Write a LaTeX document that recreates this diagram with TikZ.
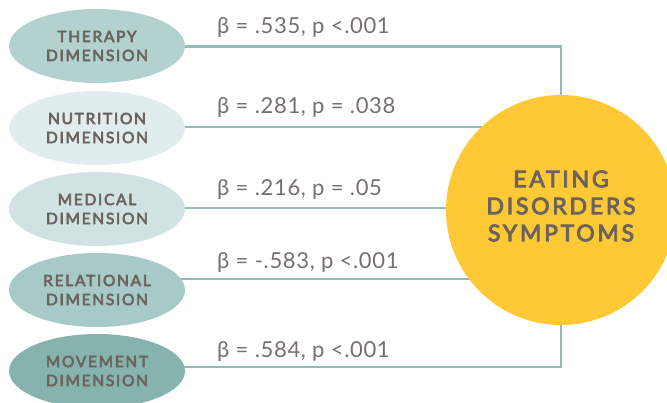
\documentclass[tikz,border=0pt]{standalone}
\usepackage{fontspec}
\setmainfont{Lato}
\newfontfamily\labfont[LetterSpace=3]{Lato}
\newfontfamily\dimfont[LetterSpace=11, FakeBold=4]{Lato}
\newfontfamily\circfont[LetterSpace=12, FakeBold=4]{Lato}
\usetikzlibrary{backgrounds,shapes.geometric}
\definecolor{txt}{HTML}{6B635E}
\definecolor{lbl}{HTML}{75706C}
\definecolor{ln}{HTML}{8FBDB8}
\definecolor{cA}{HTML}{B3D1CE}
\definecolor{cB}{HTML}{E1EDED}
\definecolor{cC}{HTML}{D0E3E2}
\definecolor{cD}{HTML}{A7C9C7}
\definecolor{cE}{HTML}{87B3AE}
\definecolor{yel}{HTML}{FFC935}
\begin{document}
\begin{tikzpicture}[x=1pt,y=-1pt,
  dimnode/.style={ellipse, minimum width=176pt, minimum height=74pt, inner sep=0pt,
    align=center, text=txt, font=\dimfont\fontsize{15.5}{19}\selectfont},
  lab/.style={anchor=base west, text=lbl, inner sep=0pt, font=\labfont\fontsize{22}{24}\selectfont},
  conn/.style={draw=ln, line width=2.6pt}]
\useasboundingbox (0,0) rectangle (667,402);
\clip (0,0) rectangle (667,402);
\node[circle, fill=yel, minimum size=230pt, inner sep=0pt] (circ) at (561,210) {};
\node[align=center, text=txt, inner sep=0pt, font=\circfont\fontsize{23}{27}\selectfont]
  (ctext) at ([yshift=4pt]circ.center) {EATING\\DISORDERS\\SYMPTOMS};
\node[dimnode, fill=cA] (ther) at (97,46) {THERAPY\\DIMENSION};
\node[dimnode, fill=cB] (nut) at (97,128) {NUTRITION\\DIMENSION};
\node[dimnode, fill=cC] (med) at (97,209) {MEDICAL\\DIMENSION};
\node[dimnode, fill=cD] (rel) at (97,290) {RELATIONAL\\DIMENSION};
\node[dimnode, fill=cE] (mov) at (97,371) {MOVEMENT\\DIMENSION};
\begin{scope}[on background layer]
\draw[conn] ([yshift=-0.7pt]ther.center) -- ([yshift=-0.7pt]ther.center -| circ.north) -- (circ.north);
\draw[conn] ([yshift=1pt]nut.center) -- ([yshift=1pt]nut.center -| circ.center);
\draw[conn] ([yshift=1pt]med.center) -- ([yshift=1pt]med.center -| circ.center);
\draw[conn] ([yshift=11pt]rel.center) -- ([yshift=11pt]rel.center -| circ.center);
\draw[conn] ([yshift=4pt]mov.center) -- ([yshift=4pt]mov.center -| circ.south) -- (circ.south);
\end{scope}
\node[lab] (l1) at (217,33) {β = .535, p <.001};
\node[lab] (l2) at (217,113) {β = .281, p = .038};
\node[lab] (l3) at (217,195) {β = .216, p = .05};
\node[lab] (l4) at (217,268) {β = -.583, p <.001};
\node[lab] (l5) at (217,357) {β = .584, p <.001};
\end{tikzpicture}
\end{document}
